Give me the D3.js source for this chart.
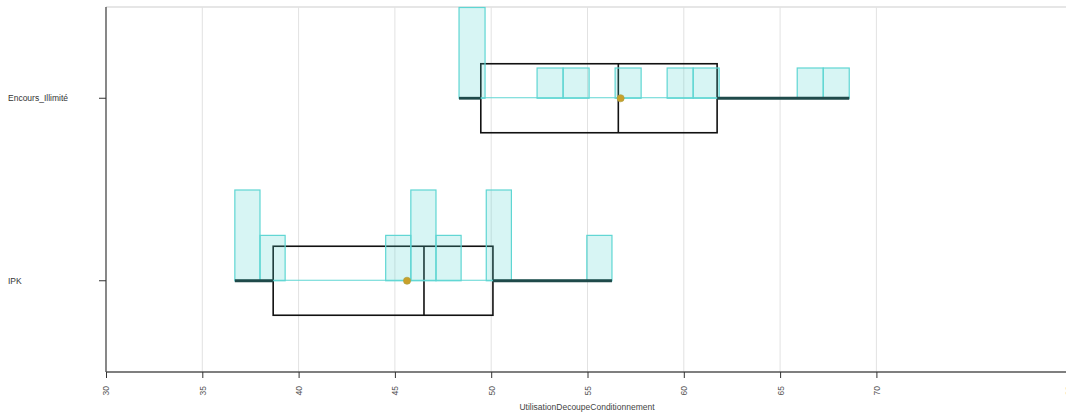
<!DOCTYPE html>
<html>
<head>
<meta charset="utf-8">
<script src="https://cdn.jsdelivr.net/npm/d3@7"></script>
<style>
  body { margin: 0; background: #fff; }
  text { font-family: "Liberation Sans", Arial, sans-serif; }
</style>
</head>
<body>
<svg id="canvas"></svg>
<script>
'use strict';

// one entry per category, top to bottom
var categories = ['Encours_Illimité', 'IPK'];
var minValues = [48.33, 36.69];
var q1Values = [49.46, 38.68];
var medianValues = [56.60, 46.51];
var q3Values = [61.73, 50.09];
var maxValues = [68.59, 56.27];
var meanValues = [56.72, 45.63];
// 15 equal bins between min and max
var binCounts = [
  [3, 0, 0, 1, 1, 0, 1, 0, 1, 1, 0, 0, 0, 1, 1],
  [2, 1, 0, 0, 0, 0, 1, 2, 1, 0, 2, 0, 0, 0, 1]
];
var xTicks = [30, 35, 40, 45, 50, 55, 60, 65, 70, 80];
var xTitle = 'UtilisationDecoupeConditionnement';

var W = 1066, H = 416;
var LEFT = 106, TOP = 7, BOTTOM = 372;

function RenderChart() {
  var svg = d3.select('#canvas').attr('width', W).attr('height', H);

  var x = d3.scaleLinear().domain([30, 80]).range([LEFT, 1069]);
  var y = d3.scalePoint().domain(categories).range([TOP, BOTTOM]).padding(0.5);
  var halfBand = y.step() / 2;
  var boxHalf = 34.5;

  // grid
  svg.append('line')
      .attr('x1', LEFT).attr('x2', W)
      .attr('y1', TOP).attr('y2', TOP)
      .attr('stroke', '#e6e6e6').attr('stroke-width', 2);
  svg.selectAll('line.grid')
      .data(xTicks.filter(function(t) { return t > 30; }))
    .enter().append('line')
      .attr('class', 'grid')
      .attr('x1', function(t) { return x(t); })
      .attr('x2', function(t) { return x(t); })
      .attr('y1', TOP).attr('y2', BOTTOM)
      .attr('stroke', '#e2e2e2').attr('stroke-width', 1);

  var rows = categories.map(function(c, i) {
    return {
      name: c, min: minValues[i], q1: q1Values[i], med: medianValues[i],
      q3: q3Values[i], max: maxValues[i], mean: meanValues[i], bins: binCounts[i]
    };
  });

  var g = svg.selectAll('g.row')
      .data(rows)
    .enter().append('g')
      .attr('class', 'row')
      .attr('transform', function(d) { return 'translate(0,' + y(d.name) + ')'; });

  // box
  g.append('rect')
      .attr('x', function(d) { return x(d.q1); })
      .attr('width', function(d) { return x(d.q3) - x(d.q1); })
      .attr('y', -boxHalf).attr('height', boxHalf * 2)
      .attr('fill', 'none').attr('stroke', '#111').attr('stroke-width', 1.6);
  g.append('line')
      .attr('x1', function(d) { return x(d.med); })
      .attr('x2', function(d) { return x(d.med); })
      .attr('y1', -boxHalf).attr('y2', boxHalf)
      .attr('stroke', '#111').attr('stroke-width', 1.6);

  // histogram
  g.each(function(d) {
    var n = d.bins.length;
    var step = (d.max - d.min) / n;
    var maxCount = d3.max(d.bins);
    var h = d3.scaleLinear().domain([0, maxCount]).range([0, halfBand - 0.5]);
    var bins = d.bins.map(function(c, k) {
      return { x0: d.min + k * step, x1: d.min + (k + 1) * step, count: c };
    }).filter(function(b) { return b.count > 0; });
    var sel = d3.select(this);
    sel.append('line')
        .attr('x1', x(d.min)).attr('x2', x(d.max))
        .attr('y1', -0.5).attr('y2', -0.5)
        .attr('stroke', '#5fd6d3').attr('stroke-width', 1.2);
    sel.selectAll('rect.bin')
        .data(bins)
      .enter().append('rect')
        .attr('class', 'bin')
        .attr('x', function(b) { return x(b.x0); })
        .attr('width', function(b) { return x(b.x1) - x(b.x0); })
        .attr('y', function(b) { return -h(b.count); })
        .attr('height', function(b) { return h(b.count); })
        .attr('fill', 'rgba(72,209,204,0.22)')
        .attr('stroke', '#5fd6d3').attr('stroke-width', 1.2);
  });

  // whiskers
  g.append('line')
      .attr('x1', function(d) { return x(d.min); })
      .attr('x2', function(d) { return x(d.q1); })
      .attr('y1', 0).attr('y2', 0)
      .attr('stroke', '#1f4a4a').attr('stroke-width', 2.8);
  g.append('line')
      .attr('x1', function(d) { return x(d.q3); })
      .attr('x2', function(d) { return x(d.max); })
      .attr('y1', 0).attr('y2', 0)
      .attr('stroke', '#1f4a4a').attr('stroke-width', 2.8);

  // mean
  g.append('circle')
      .attr('cx', function(d) { return x(d.mean); })
      .attr('cy', 0).attr('r', 3.6)
      .attr('fill', '#c9a02a').attr('stroke', '#a8a040').attr('stroke-width', 0.6);

  // x axis
  var xAxis = svg.append('g')
      .attr('transform', 'translate(0,' + BOTTOM + ')')
      .call(d3.axisBottom(x).tickValues(xTicks).tickSize(6).tickSizeOuter(0)
        .tickFormat(d3.format('d')));
  xAxis.select('.domain').attr('stroke', '#555').attr('stroke-width', 1.4)
      .attr('d', 'M' + LEFT + ',0H' + W);
  xAxis.selectAll('.tick line').attr('stroke', '#333');
  xAxis.selectAll('.tick text')
      .attr('fill', '#555').attr('font-size', 8.5)
      .attr('text-anchor', 'end')
      .attr('y', 0).attr('dy', '0.35em')
      .attr('transform', 'translate(0,14) rotate(-90)');

  svg.append('text')
      .attr('x', 587).attr('y', 410)
      .attr('text-anchor', 'middle')
      .attr('font-size', 8.5).attr('fill', '#444')
      .text(xTitle);

  // y axis
  svg.append('line')
      .attr('x1', LEFT).attr('x2', LEFT)
      .attr('y1', TOP).attr('y2', BOTTOM)
      .attr('stroke', '#555').attr('stroke-width', 1.4);
  var yt = svg.selectAll('g.ytick')
      .data(categories)
    .enter().append('g')
      .attr('class', 'ytick')
      .attr('transform', function(c) { return 'translate(0,' + y(c) + ')'; });
  yt.append('line')
      .attr('x1', LEFT - 7).attr('x2', LEFT)
      .attr('stroke', '#333').attr('stroke-width', 1);
  yt.append('text')
      .attr('x', 8).attr('dy', '0.35em')
      .attr('font-size', 8.5).attr('fill', '#333')
      .text(function(c) { return c; });
}

RenderChart();
</script>
</body>
</html>
